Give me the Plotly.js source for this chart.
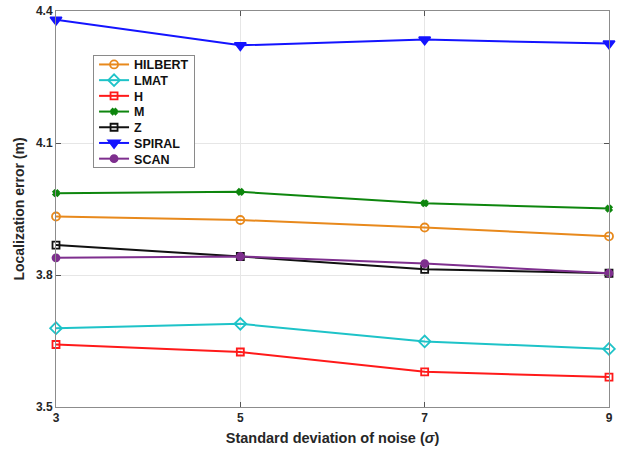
<!DOCTYPE html>
<html>
<head>
<meta charset="utf-8">
<script src="https://cdn.plot.ly/plotly-3.0.1.min.js"></script>
<style>html,body{margin:0;padding:0;background:#fff;}#chart{width:625px;height:457px;}</style>
</head>
<body>
<div id="chart"></div>
<script>
const noiseSigma = [3, 5, 7, 9];
const seriesNames = ["HILBERT", "LMAT", "H", "M", "Z", "SPIRAL", "SCAN"];
const hilbert = [3.933, 3.925, 3.908, 3.888];
const lmat    = [3.679, 3.689, 3.649, 3.632];
const h       = [3.642, 3.625, 3.580, 3.568];
const m       = [3.986, 3.989, 3.963, 3.951];
const z       = [3.868, 3.842, 3.813, 3.804];
const spiral  = [4.380, 4.322, 4.335, 4.326];
const scan    = [3.839, 3.842, 3.826, 3.804];
const yTicks = [3.5, 3.8, 4.1, 4.4];
const xTicks = [3, 5, 7, 9];

const styles = [
  {color: '#E8891C', symbol: 'circle-open', size: 8},
  {color: '#1EC3C8', symbol: 'diamond-open', size: 9},
  {color: '#FF1A1A', symbol: 'square-open', size: 7},
  {color: '#0E860E', symbol: 'x', size: 5},
  {color: '#111111', symbol: 'square-open', size: 7},
  {color: '#1414FF', symbol: 'triangle-down', size: 10},
  {color: '#7E2F8E', symbol: 'circle', size: 7}
];
const values = [hilbert, lmat, h, m, z, spiral, scan];

const traces = seriesNames.map((name, i) => ({
  x: noiseSigma,
  y: values[i],
  name: name,
  type: 'scatter',
  mode: 'lines+markers',
  line: {color: styles[i].color, width: 2},
  marker: {symbol: styles[i].symbol, size: styles[i].size, color: styles[i].color,
           line: {color: styles[i].color, width: 1.8}},
  cliponaxis: false
}));

const axisFont = {family: 'Liberation Sans, Arial, sans-serif', size: 12, color: '#262626', weight: 'bold'};
const titleFont = {family: 'Liberation Sans, Arial, sans-serif', size: 14, color: '#262626', weight: 'bold'};

const layout = {
  width: 625, height: 457,
  margin: {l: 56, r: 16, t: 11, b: 50},
  paper_bgcolor: '#fff', plot_bgcolor: '#fff',
  font: {family: 'Liberation Sans, Arial, sans-serif', color: '#262626'},
  showlegend: true,
  legend: {
    x: 0.067, y: 0.889, xanchor: 'left', yanchor: 'top',
    bgcolor: '#fff', bordercolor: '#8a8a8a', borderwidth: 1,
    font: {family: 'Liberation Sans, Arial, sans-serif', size: 12.5, color: '#111', weight: 'bold'},
    itemwidth: 30, tracegroupgap: 0
  },
  xaxis: {
    range: [3, 9], tickvals: xTicks, ticktext: xTicks.map(String),
    showgrid: true, gridcolor: '#e6e6e6', gridwidth: 1,
    zeroline: false, showline: true, linecolor: '#8c8c8c', linewidth: 1, mirror: 'ticks',
    ticks: 'inside', ticklen: 5, tickcolor: '#555',
    tickfont: axisFont,
    title: {text: 'Standard deviation of noise (<i>σ</i>)', font: Object.assign({}, titleFont, {size: 14.5}), standoff: 8}
  },
  yaxis: {
    range: [3.5, 4.4], tickvals: yTicks, ticktext: yTicks.map(v => v.toFixed(1)),
    showgrid: true, gridcolor: '#e6e6e6', gridwidth: 1,
    zeroline: false, showline: true, linecolor: '#8c8c8c', linewidth: 1, mirror: 'ticks',
    ticks: 'inside', ticklen: 5, tickcolor: '#555',
    tickfont: axisFont,
    title: {text: 'Localization error (m)', font: titleFont, standoff: 8}
  }
};

Plotly.newPlot('chart', traces, layout, {displayModeBar: false, staticPlot: true}).then(gd => {
  // tighten legend row spacing to match the reference
  const step = 15.7;
  const firstY = 9.5;
  const items = gd.querySelectorAll('g.legend g.traces');
  items.forEach((el, i) => {
    const t = el.getAttribute('transform') || '';
    const mt = /translate\(\s*([-\d.]+)[ ,]+([-\d.]+)\s*\)/.exec(t);
    if (!mt) return;
    const x = parseFloat(mt[1]);
    el.setAttribute('transform', 'translate(' + x + ',' + (firstY + i * step) + ')');
  });
  const bg = gd.querySelector('g.legend rect.bg');
  if (bg) bg.setAttribute('height', 112);
});
</script>
</body>
</html>
